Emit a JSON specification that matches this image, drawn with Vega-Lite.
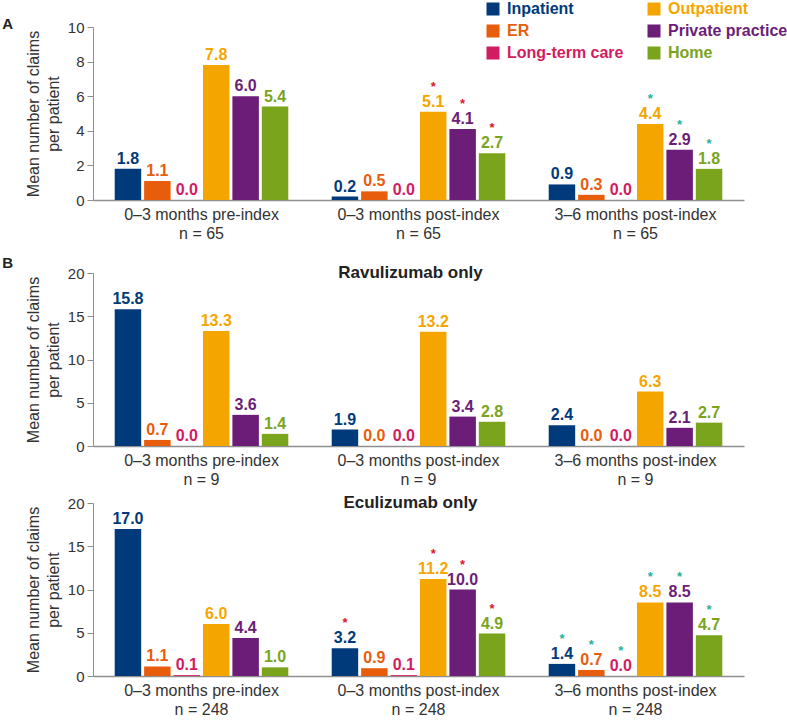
{
  "$schema": "https://vega.github.io/schema/vega-lite/v6.json",
  "padding": {"left": 2, "top": 1, "right": 5, "bottom": 5},
  "config": {
    "font": "Liberation Sans",
    "view": {"stroke": null},
    "axis": {"grid": false, "domainColor": "#8f8f8f", "tickColor": "#8f8f8f", "labelColor": "#333333", "titleColor": "#333333", "labelFont": "Liberation Sans", "titleFont": "Liberation Sans"},
    "axisX": {"ticks": false, "domainWidth": 1.5, "labelPadding": 6, "labelFontSize": 16, "labelLineHeight": 19, "labelAngle": 0, "title": null},
    "axisY": {"tickSize": 6, "labelPadding": 3, "labelFontSize": 15, "titleFontSize": 16, "titleFontWeight": "normal", "titlePadding": 6, "titleLineHeight": 20, "domainWidth": 1}
  },
  "datasets": {
    "claims": [
      {"cohort": "All", "period": "0–3 months pre-index", "setting": "Inpatient", "value": 1.8, "sig": false},
      {"cohort": "All", "period": "0–3 months pre-index", "setting": "ER", "value": 1.1, "sig": false},
      {"cohort": "All", "period": "0–3 months pre-index", "setting": "Long-term care", "value": 0.0, "sig": false},
      {"cohort": "All", "period": "0–3 months pre-index", "setting": "Outpatient", "value": 7.8, "sig": false},
      {"cohort": "All", "period": "0–3 months pre-index", "setting": "Private practice", "value": 6.0, "sig": false},
      {"cohort": "All", "period": "0–3 months pre-index", "setting": "Home", "value": 5.4, "sig": false},
      {"cohort": "All", "period": "0–3 months post-index", "setting": "Inpatient", "value": 0.2, "sig": false},
      {"cohort": "All", "period": "0–3 months post-index", "setting": "ER", "value": 0.5, "sig": false},
      {"cohort": "All", "period": "0–3 months post-index", "setting": "Long-term care", "value": 0.0, "sig": false},
      {"cohort": "All", "period": "0–3 months post-index", "setting": "Outpatient", "value": 5.1, "sig": true},
      {"cohort": "All", "period": "0–3 months post-index", "setting": "Private practice", "value": 4.1, "sig": true},
      {"cohort": "All", "period": "0–3 months post-index", "setting": "Home", "value": 2.7, "sig": true},
      {"cohort": "All", "period": "3–6 months post-index", "setting": "Inpatient", "value": 0.9, "sig": false},
      {"cohort": "All", "period": "3–6 months post-index", "setting": "ER", "value": 0.3, "sig": false},
      {"cohort": "All", "period": "3–6 months post-index", "setting": "Long-term care", "value": 0.0, "sig": false},
      {"cohort": "All", "period": "3–6 months post-index", "setting": "Outpatient", "value": 4.4, "sig": true},
      {"cohort": "All", "period": "3–6 months post-index", "setting": "Private practice", "value": 2.9, "sig": true},
      {"cohort": "All", "period": "3–6 months post-index", "setting": "Home", "value": 1.8, "sig": true},
      {"cohort": "Ravulizumab only", "period": "0–3 months pre-index", "setting": "Inpatient", "value": 15.8, "sig": false},
      {"cohort": "Ravulizumab only", "period": "0–3 months pre-index", "setting": "ER", "value": 0.7, "sig": false},
      {"cohort": "Ravulizumab only", "period": "0–3 months pre-index", "setting": "Long-term care", "value": 0.0, "sig": false},
      {"cohort": "Ravulizumab only", "period": "0–3 months pre-index", "setting": "Outpatient", "value": 13.3, "sig": false},
      {"cohort": "Ravulizumab only", "period": "0–3 months pre-index", "setting": "Private practice", "value": 3.6, "sig": false},
      {"cohort": "Ravulizumab only", "period": "0–3 months pre-index", "setting": "Home", "value": 1.4, "sig": false},
      {"cohort": "Ravulizumab only", "period": "0–3 months post-index", "setting": "Inpatient", "value": 1.9, "sig": false},
      {"cohort": "Ravulizumab only", "period": "0–3 months post-index", "setting": "ER", "value": 0.0, "sig": false},
      {"cohort": "Ravulizumab only", "period": "0–3 months post-index", "setting": "Long-term care", "value": 0.0, "sig": false},
      {"cohort": "Ravulizumab only", "period": "0–3 months post-index", "setting": "Outpatient", "value": 13.2, "sig": false},
      {"cohort": "Ravulizumab only", "period": "0–3 months post-index", "setting": "Private practice", "value": 3.4, "sig": false},
      {"cohort": "Ravulizumab only", "period": "0–3 months post-index", "setting": "Home", "value": 2.8, "sig": false},
      {"cohort": "Ravulizumab only", "period": "3–6 months post-index", "setting": "Inpatient", "value": 2.4, "sig": false},
      {"cohort": "Ravulizumab only", "period": "3–6 months post-index", "setting": "ER", "value": 0.0, "sig": false},
      {"cohort": "Ravulizumab only", "period": "3–6 months post-index", "setting": "Long-term care", "value": 0.0, "sig": false},
      {"cohort": "Ravulizumab only", "period": "3–6 months post-index", "setting": "Outpatient", "value": 6.3, "sig": false},
      {"cohort": "Ravulizumab only", "period": "3–6 months post-index", "setting": "Private practice", "value": 2.1, "sig": false},
      {"cohort": "Ravulizumab only", "period": "3–6 months post-index", "setting": "Home", "value": 2.7, "sig": false},
      {"cohort": "Eculizumab only", "period": "0–3 months pre-index", "setting": "Inpatient", "value": 17.0, "sig": false},
      {"cohort": "Eculizumab only", "period": "0–3 months pre-index", "setting": "ER", "value": 1.1, "sig": false},
      {"cohort": "Eculizumab only", "period": "0–3 months pre-index", "setting": "Long-term care", "value": 0.1, "sig": false},
      {"cohort": "Eculizumab only", "period": "0–3 months pre-index", "setting": "Outpatient", "value": 6.0, "sig": false},
      {"cohort": "Eculizumab only", "period": "0–3 months pre-index", "setting": "Private practice", "value": 4.4, "sig": false},
      {"cohort": "Eculizumab only", "period": "0–3 months pre-index", "setting": "Home", "value": 1.0, "sig": false},
      {"cohort": "Eculizumab only", "period": "0–3 months post-index", "setting": "Inpatient", "value": 3.2, "sig": true},
      {"cohort": "Eculizumab only", "period": "0–3 months post-index", "setting": "ER", "value": 0.9, "sig": false},
      {"cohort": "Eculizumab only", "period": "0–3 months post-index", "setting": "Long-term care", "value": 0.1, "sig": false},
      {"cohort": "Eculizumab only", "period": "0–3 months post-index", "setting": "Outpatient", "value": 11.2, "sig": true},
      {"cohort": "Eculizumab only", "period": "0–3 months post-index", "setting": "Private practice", "value": 10.0, "sig": true},
      {"cohort": "Eculizumab only", "period": "0–3 months post-index", "setting": "Home", "value": 4.9, "sig": true},
      {"cohort": "Eculizumab only", "period": "3–6 months post-index", "setting": "Inpatient", "value": 1.4, "sig": true},
      {"cohort": "Eculizumab only", "period": "3–6 months post-index", "setting": "ER", "value": 0.7, "sig": true},
      {"cohort": "Eculizumab only", "period": "3–6 months post-index", "setting": "Long-term care", "value": 0.0, "sig": true},
      {"cohort": "Eculizumab only", "period": "3–6 months post-index", "setting": "Outpatient", "value": 8.5, "sig": true},
      {"cohort": "Eculizumab only", "period": "3–6 months post-index", "setting": "Private practice", "value": 8.5, "sig": true},
      {"cohort": "Eculizumab only", "period": "3–6 months post-index", "setting": "Home", "value": 4.7, "sig": true}
    ]
  },
  "spacing": 15,
  "resolve": {"scale": {"color": "shared"}},
  "vconcat": [
    {
      "title": {"text": "A", "anchor": "start", "frame": "bounds", "fontSize": 15, "fontWeight": "bold", "color": "#222222", "dx": -23, "dy": 24, "offset": 0, "baseline": "alphabetic"},
      "width": 651,
      "height": 173,
      "data": {"name": "claims"},
      "transform": [{"filter": "datum.cohort === 'All'"}],
      "encoding": {
        "x": {"field": "period", "type": "nominal", "sort": ["0–3 months pre-index", "0–3 months post-index", "3–6 months post-index"], "scale": {"paddingInner": 0.2, "paddingOuter": 0.1}, "axis": {"labelExpr": "[datum.label, 'n = 65']"}},
        "y": {"field": "value", "type": "quantitative", "scale": {"domain": [0, 10]}, "axis": {"values": [0, 2, 4, 6, 8, 10], "title": ["Mean number of claims", "per patient"]}},
        "xOffset": {"field": "setting", "type": "nominal", "sort": ["Inpatient", "ER", "Long-term care", "Outpatient", "Private practice", "Home"], "scale": {"paddingInner": 0.1}}
      },
      "layer": [
        {
          "mark": {"type": "bar"},
          "encoding": {
            "color": {"field": "setting", "type": "nominal",
              "scale": {"domain": ["Inpatient", "ER", "Long-term care", "Outpatient", "Private practice", "Home"], "range": ["#003a7a", "#e85d0c", "#d31b61", "#f5a500", "#6b1d78", "#7ba41d"]},
              "legend": {"title": null, "orient": "none", "legendX": 392, "legendY": -26, "columns": 2, "direction": "vertical", "symbolType": "square", "symbolSize": 169, "symbolStrokeWidth": 0, "labelFontSize": 16, "labelFontWeight": "bold", "labelOffset": 6, "columnPadding": 22, "rowPadding": 6,
                "encode": {"labels": {"update": {"fill": {"scale": "color", "field": "value"}}}}}}
          }
        },
        {
          "mark": {"type": "text", "fontWeight": "bold", "fontSize": 16, "baseline": "alphabetic", "dy": -5},
          "encoding": {"text": {"field": "value", "type": "quantitative", "format": ".1f"}, "color": {"field": "setting", "type": "nominal", "legend": null}}
        },
        {
          "transform": [{"filter": "datum.sig"}],
          "mark": {"type": "text", "text": "*", "fontWeight": "bold", "fontSize": 13, "baseline": "alphabetic", "dy": -21},
          "encoding": {"color": {"condition": {"test": "datum.period === '3–6 months post-index'", "value": "#1fb1a0"}, "value": "#e3122d"}}
        }
      ]
    },
    {
      "spacing": 7,
      "vconcat": [
        {
          "title": {"text": "B", "anchor": "start", "frame": "bounds", "fontSize": 15, "fontWeight": "bold", "color": "#222222", "dx": -23, "dy": 19, "offset": 0, "baseline": "alphabetic"},
          "width": 651,
          "height": 173,
          "data": {"name": "claims"},
          "transform": [{"filter": "datum.cohort === 'Ravulizumab only'"}],
          "encoding": {
            "x": {"field": "period", "type": "nominal", "sort": ["0–3 months pre-index", "0–3 months post-index", "3–6 months post-index"], "scale": {"paddingInner": 0.2, "paddingOuter": 0.1}, "axis": {"labelExpr": "[datum.label, 'n = 9']"}},
            "y": {"field": "value", "type": "quantitative", "scale": {"domain": [0, 20]}, "axis": {"values": [0, 5, 10, 15, 20], "title": ["Mean number of claims", "per patient"]}}
          },
          "layer": [
            {"mark": {"type": "bar"}, "encoding": {
              "xOffset": {"field": "setting", "type": "nominal", "sort": ["Inpatient", "ER", "Long-term care", "Outpatient", "Private practice", "Home"], "scale": {"paddingInner": 0.1}},
              "color": {"field": "setting", "type": "nominal", "legend": null}}},
            {
              "mark": {"type": "text", "fontWeight": "bold", "fontSize": 16, "baseline": "alphabetic", "dy": -5},
              "encoding": {
                "xOffset": {"field": "setting", "type": "nominal", "sort": ["Inpatient", "ER", "Long-term care", "Outpatient", "Private practice", "Home"]},
                "text": {"field": "value", "type": "quantitative", "format": ".1f"}, "color": {"field": "setting", "type": "nominal", "legend": null}}
            },
            {
              "transform": [{"filter": "datum.setting === 'Inpatient' && datum.period === '0–3 months post-index'"}],
              "mark": {"type": "text", "fontWeight": "bold", "fontSize": 17, "color": "#222222", "baseline": "alphabetic", "dx": -8, "dy": 5},
              "encoding": {"y": {"datum": 20}, "text": {"field": "cohort", "type": "nominal"}}
            }
          ]
        },
        {
          "width": 651,
          "height": 173,
          "data": {"name": "claims"},
          "transform": [{"filter": "datum.cohort === 'Eculizumab only'"}],
          "encoding": {
            "x": {"field": "period", "type": "nominal", "sort": ["0–3 months pre-index", "0–3 months post-index", "3–6 months post-index"], "scale": {"paddingInner": 0.2, "paddingOuter": 0.1}, "axis": {"labelExpr": "[datum.label, 'n = 248']"}},
            "y": {"field": "value", "type": "quantitative", "scale": {"domain": [0, 20]}, "axis": {"values": [0, 5, 10, 15, 20], "title": ["Mean number of claims", "per patient"]}}
          },
          "layer": [
            {"mark": {"type": "bar"}, "encoding": {
              "xOffset": {"field": "setting", "type": "nominal", "sort": ["Inpatient", "ER", "Long-term care", "Outpatient", "Private practice", "Home"], "scale": {"paddingInner": 0.1}},
              "color": {"field": "setting", "type": "nominal", "legend": null}}},
            {
              "mark": {"type": "text", "fontWeight": "bold", "fontSize": 16, "baseline": "alphabetic", "dy": -5},
              "encoding": {
                "xOffset": {"field": "setting", "type": "nominal", "sort": ["Inpatient", "ER", "Long-term care", "Outpatient", "Private practice", "Home"]},
                "text": {"field": "value", "type": "quantitative", "format": ".1f"}, "color": {"field": "setting", "type": "nominal", "legend": null}}
            },
            {
              "transform": [{"filter": "datum.sig"}],
              "mark": {"type": "text", "text": "*", "fontWeight": "bold", "fontSize": 13, "baseline": "alphabetic", "dy": -21},
              "encoding": {
                "xOffset": {"field": "setting", "type": "nominal", "sort": ["Inpatient", "ER", "Long-term care", "Outpatient", "Private practice", "Home"]},
                "color": {"condition": {"test": "datum.period === '3–6 months post-index'", "value": "#1fb1a0"}, "value": "#e3122d"}}
            },
            {
              "transform": [{"filter": "datum.setting === 'Inpatient' && datum.period === '0–3 months post-index'"}],
              "mark": {"type": "text", "fontWeight": "bold", "fontSize": 17, "color": "#222222", "baseline": "alphabetic", "dx": -8, "dy": 5},
              "encoding": {"y": {"datum": 20}, "text": {"field": "cohort", "type": "nominal"}}
            }
          ]
        }
      ]
    }
  ]
}
